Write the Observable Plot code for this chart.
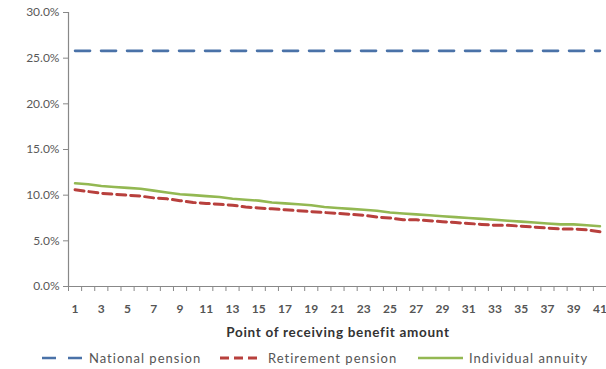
<!DOCTYPE html>
<html>
<head>
<meta charset="utf-8">
<script src="https://cdn.jsdelivr.net/npm/d3@7"></script>
<script src="https://cdn.jsdelivr.net/npm/@observablehq/plot@0.6"></script>
<style>
  html, body { margin: 0; padding: 0; background: #fff; }
  #wrap { position: relative; width: 606px; height: 369px; overflow: hidden; font-family: Lato, "Open Sans", sans-serif; color: #595959; }
  #xtitle { position: absolute; left: 188px; width: 300px; top: 324px; text-align: center; font-weight: bold; font-size: 13.5px; color: #333; letter-spacing: 0.7px; }
  .leg { position: absolute; top: 350px; display: flex; align-items: center; font-size: 13px; color: #555; letter-spacing: 1px; }
  .leg svg { display: block; margin-right: 6px; }
</style>
</head>
<body>
<div id="wrap">
  <div id="chart"></div>
  <div id="xtitle"></div>
  <div id="legend"></div>
</div>
<script>
// ---- data ----
const categories = d3.range(1, 42); // 1..41 points of receiving benefit
const seriesNames = ["National pension", "Retirement pension", "Individual annuity"];
const nationalPension = [25.8,25.8,25.8,25.8,25.8,25.8,25.8,25.8,25.8,25.8,25.8,25.8,25.8,25.8,25.8,25.8,25.8,25.8,25.8,25.8,25.8,25.8,25.8,25.8,25.8,25.8,25.8,25.8,25.8,25.8,25.8,25.8,25.8,25.8,25.8,25.8,25.8,25.8,25.8,25.8,25.8];
const retirementPension = [10.6,10.4,10.2,10.1,10.0,9.9,9.7,9.6,9.4,9.2,9.1,9.0,8.9,8.7,8.6,8.5,8.4,8.3,8.2,8.1,8.0,7.9,7.8,7.6,7.5,7.3,7.3,7.2,7.1,7.0,6.9,6.8,6.7,6.7,6.6,6.5,6.4,6.3,6.3,6.2,6.0];
const individualAnnuity = [11.3,11.2,11.0,10.9,10.8,10.7,10.5,10.3,10.1,10.0,9.9,9.8,9.6,9.5,9.4,9.2,9.1,9.0,8.9,8.7,8.6,8.5,8.4,8.3,8.1,8.0,7.9,7.8,7.7,7.6,7.5,7.4,7.3,7.2,7.1,7.0,6.9,6.8,6.8,6.7,6.6];
const yTicks = [0, 5, 10, 15, 20, 25, 30];
const xTickLabels = categories.filter(c => c % 2 === 1);
const xTitle = "Point of receiving benefit amount";

// ---- styles ----
const colors = ["#4a72a8", "#b8403d", "#93b852"];
const dashes = ["15,11", "9,5", null];
const widths = [2.6, 3, 2.6];

const seriesValues = [nationalPension, retirementPension, individualAnnuity];
const rows = [];
seriesNames.forEach((name, s) => {
  categories.forEach((c, i) => rows.push({series: name, cat: c, value: seriesValues[s][i] / 100}));
});

const xDomain = [categories[0] - 0.5, categories[categories.length - 1] + 0.5];
const boundaries = categories.map(c => c - 0.5).concat([xDomain[1]]);

const plot = Plot.plot({
  width: 606,
  height: 340,
  marginLeft: 68,
  marginRight: 0,
  marginTop: 12,
  marginBottom: 54,
  style: {fontFamily: "Lato, 'Open Sans', sans-serif", fontSize: "11px", color: "#595959", background: "#fff", overflow: "visible"},
  x: {domain: xDomain},
  y: {domain: [0, 0.30]},
  marks: [
    Plot.axisY({ticks: yTicks.map(v => v / 100), tickFormat: d3.format(".1%"), tickSize: 5, tickPadding: 4, stroke: "#888", label: null, fontSize: 12, fill: "#595959"}),
    Plot.axisX({ticks: boundaries, tickSize: 5, tickFormat: () => "", stroke: "#888", label: null}),
    Plot.axisX({ticks: xTickLabels, tickSize: 0, tickPadding: 18, tickFormat: d => String(d), label: null, fontSize: 12, fontWeight: "bold", fill: "#555"}),
    Plot.ruleX([xDomain[0]], {stroke: "#888", strokeWidth: 1.2}),
    Plot.ruleY([0], {stroke: "#888", strokeWidth: 1.2}),
    ...seriesNames.map((name, s) =>
      Plot.line(rows.filter(r => r.series === name), {
        x: "cat", y: "value", stroke: colors[s], strokeWidth: widths[s],
        strokeDasharray: dashes[s] || undefined
      })
    )
  ]
});
document.getElementById("chart").appendChild(plot);
document.getElementById("xtitle").textContent = xTitle;

// ---- legend ----
const legendPos = [{left: 42, w: 41}, {left: 220, w: 42}, {left: 418, w: 45}];
const legend = document.getElementById("legend");
seriesNames.forEach((name, s) => {
  const item = document.createElement("div");
  item.className = "leg";
  item.style.left = legendPos[s].left + "px";
  const w = legendPos[s].w;
  const sw = d3.create("svg").attr("width", w).attr("height", 10);
  sw.append("line").attr("x1", 0).attr("x2", w).attr("y1", 5).attr("y2", 5)
    .attr("stroke", colors[s]).attr("stroke-width", widths[s])
    .attr("stroke-dasharray", s === 0 ? "14,12" : (dashes[s] || null));
  item.appendChild(sw.node());
  const t = document.createElement("span");
  t.textContent = name;
  item.appendChild(t);
  legend.appendChild(item);
});
</script>
</body>
</html>
